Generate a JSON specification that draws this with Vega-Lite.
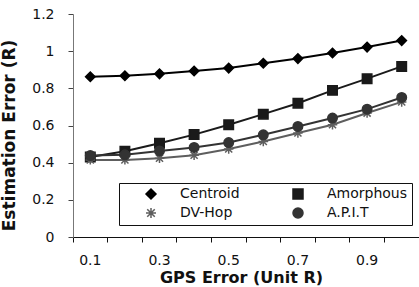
{
  "$schema": "https://vega.github.io/schema/vega-lite/v6.json",
  "autosize": {"type": "none"},
  "padding": {"left": 73, "top": 14, "right": 0, "bottom": 50},
  "width": 346,
  "height": 223,
  "config": {
    "view": {"stroke": null},
    "font": "DejaVu Sans",
    "axis": {"grid": false, "labelFont": "DejaVu Sans", "labelFontSize": 14, "labelColor": "#111", "titleFont": "DejaVu Sans", "titleFontSize": 16, "titleFontWeight": "bold", "titleColor": "#111"}
  },
  "data": {"values": [
    {"gps": "0.1", "series": "Centroid", "err": 0.862},
    {"gps": "0.2", "series": "Centroid", "err": 0.868},
    {"gps": "0.3", "series": "Centroid", "err": 0.878},
    {"gps": "0.4", "series": "Centroid", "err": 0.893},
    {"gps": "0.5", "series": "Centroid", "err": 0.909},
    {"gps": "0.6", "series": "Centroid", "err": 0.935},
    {"gps": "0.7", "series": "Centroid", "err": 0.96},
    {"gps": "0.8", "series": "Centroid", "err": 0.99},
    {"gps": "0.9", "series": "Centroid", "err": 1.022},
    {"gps": "1.0", "series": "Centroid", "err": 1.057},
    {"gps": "0.1", "series": "Amorphous", "err": 0.43},
    {"gps": "0.2", "series": "Amorphous", "err": 0.462},
    {"gps": "0.3", "series": "Amorphous", "err": 0.505},
    {"gps": "0.4", "series": "Amorphous", "err": 0.551},
    {"gps": "0.5", "series": "Amorphous", "err": 0.604},
    {"gps": "0.6", "series": "Amorphous", "err": 0.661},
    {"gps": "0.7", "series": "Amorphous", "err": 0.72},
    {"gps": "0.8", "series": "Amorphous", "err": 0.789},
    {"gps": "0.9", "series": "Amorphous", "err": 0.852},
    {"gps": "1.0", "series": "Amorphous", "err": 0.918},
    {"gps": "0.1", "series": "DV-Hop", "err": 0.415},
    {"gps": "0.2", "series": "DV-Hop", "err": 0.415},
    {"gps": "0.3", "series": "DV-Hop", "err": 0.424},
    {"gps": "0.4", "series": "DV-Hop", "err": 0.44},
    {"gps": "0.5", "series": "DV-Hop", "err": 0.474},
    {"gps": "0.6", "series": "DV-Hop", "err": 0.514},
    {"gps": "0.7", "series": "DV-Hop", "err": 0.56},
    {"gps": "0.8", "series": "DV-Hop", "err": 0.604},
    {"gps": "0.9", "series": "DV-Hop", "err": 0.667},
    {"gps": "1.0", "series": "DV-Hop", "err": 0.727},
    {"gps": "0.1", "series": "A.P.I.T", "err": 0.438},
    {"gps": "0.2", "series": "A.P.I.T", "err": 0.442},
    {"gps": "0.3", "series": "A.P.I.T", "err": 0.463},
    {"gps": "0.4", "series": "A.P.I.T", "err": 0.482},
    {"gps": "0.5", "series": "A.P.I.T", "err": 0.508},
    {"gps": "0.6", "series": "A.P.I.T", "err": 0.55},
    {"gps": "0.7", "series": "A.P.I.T", "err": 0.595},
    {"gps": "0.8", "series": "A.P.I.T", "err": 0.64},
    {"gps": "0.9", "series": "A.P.I.T", "err": 0.688},
    {"gps": "1.0", "series": "A.P.I.T", "err": 0.751}
  ]},
  "encoding": {
    "x": {
      "field": "gps", "type": "ordinal",
      "scale": {"type": "band", "paddingInner": 0, "paddingOuter": 0, "domain": ["0.1","0.2","0.3","0.4","0.5","0.6","0.7","0.8","0.9","1.0"]},
      "axis": {
        "title": "GPS Error  (Unit R)",
        "labelAngle": 0,
        "bandPosition": 0,
        "tickSize": 5,
        "tickColor": "#111",
        "domainColor": "#111",
        "labelPadding": 11,
        "labelExpr": "indexof(['0.1','0.3','0.5','0.7','0.9'], datum.label) >= 0 ? datum.label : ''",
        "titleBaseline": "alphabetic",
        "titleY": 45,
        "titleX": 168
      }
    },
    "y": {
      "field": "err", "type": "quantitative",
      "scale": {"domain": [0, 1.2], "nice": false},
      "axis": {
        "title": "Estimation Error  (R)",
        "values": [0, 0.2, 0.4, 0.6, 0.8, 1, 1.2],
        "format": "~g",
        "tickSize": 5,
        "tickColor": "#444",
        "domainColor": "#777",
        "labelPadding": 14,
        "titleBaseline": "alphabetic",
        "titleX": -59,
        "titleY": 121,
        "titleFontSize": 17
      }
    },
    "color": {
      "field": "series", "type": "nominal",
      "scale": {"domain": ["Centroid", "Amorphous", "DV-Hop", "A.P.I.T"], "range": ["#000000", "#1a1a1a", "#5e5e5e", "#333333"]},
      "legend": {
        "title": null,
        "orient": "none",
        "legendX": 46,
        "legendY": 169,
        "columns": 2,
        "direction": "horizontal",
        "columnPadding": 30,
        "rowPadding": 3,
        "padding": 4,
        "strokeColor": "#111",
        "fillColor": "#fff",
        "labelFont": "DejaVu Sans",
        "labelFontSize": 14,
        "labelColor": "#111",
        "labelOffset": 22,
        "symbolOffset": 21,
        "symbolSize": 100
      }
    }
  },
  "layer": [
    {
      "mark": {"type": "line", "strokeWidth": 2}
    },
    {
      "mark": {"type": "point", "filled": true, "opacity": 1, "strokeWidth": 1.5, "size": 90},
      "encoding": {
        "shape": {
          "field": "series", "type": "nominal",
          "scale": {"domain": ["Centroid", "Amorphous", "DV-Hop", "A.P.I.T"], "range": ["diamond", "square", "M-1,0L1,0M0,-1L0,1M-0.75,-0.75L0.75,0.75M-0.75,0.75L0.75,-0.75", "circle"]},
          "legend": null
        },
        "stroke": {"field": "series", "type": "nominal", "scale": {"domain": ["Centroid", "Amorphous", "DV-Hop", "A.P.I.T"], "range": ["#000000", "#1a1a1a", "#5e5e5e", "#333333"]}}
      }
    }
  ]
}
